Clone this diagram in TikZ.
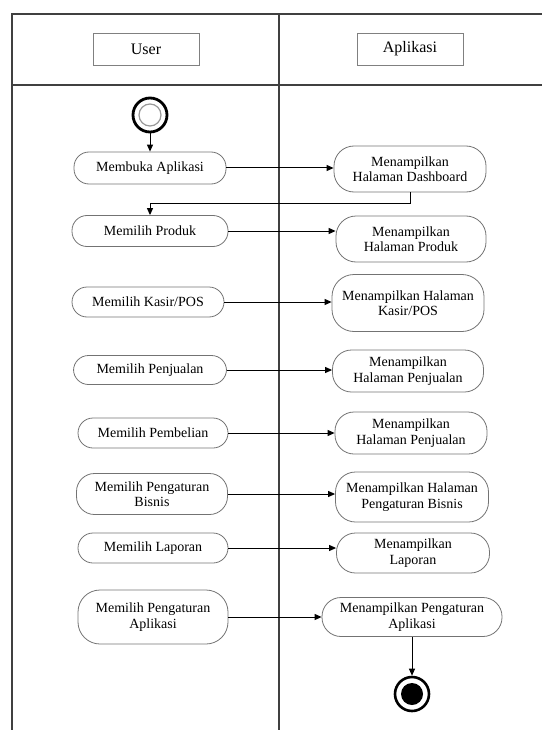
\documentclass[tikz,border=0pt]{standalone}
\usepackage{fontspec}
\setmainfont{Liberation Serif}
\usetikzlibrary{arrows.meta, positioning}

\begin{document}
\begin{tikzpicture}[
    x=1pt, y=-1pt,
    lane/.style={draw=black!75, line width=1.6pt},
    head/.style={draw=black!50, line width=0.9pt, minimum width=106pt, minimum height=32pt, font=\fontsize{16}{19}\selectfont},
    act/.style={draw=black!55, line width=0.8pt, rounded corners=15pt, align=center, inner sep=0pt, font=\fontsize{14}{15.5}\selectfont},
    arr/.style={-{Triangle[length=7pt, width=6pt]}, line width=1pt},
    startnode/.style={circle, draw, line width=2.8pt, minimum size=34pt, inner sep=0pt,
        path picture={\draw[black!40, line width=1.2pt] (path picture bounding box.center) circle (11pt);}},
    endnode/.style={circle, draw, line width=2.6pt, minimum size=34pt, inner sep=0pt,
        path picture={\fill (path picture bounding box.center) circle (11pt);}}
]
\useasboundingbox (0,0) rectangle (542,730);
% swimlanes
\draw[lane] (12,730) -- (12,14) -- (542,14);
\draw[lane] (12,85) -- (542,85);
\draw[lane] (279,14) -- (279,730);
\node[head] (user) at (146,49) {User};
\node[head] (app) at (410,49) {Aplikasi};
% user lane
\node[startnode] (start) at (150,115) {};
\node[act, minimum width=152pt, minimum height=32pt] (u1) at (150,168) {Membuka Aplikasi};
\node[act, minimum width=156pt, minimum height=31pt] (u2) at (150,231) {Memilih Produk};
\node[act, minimum width=152pt, minimum height=30pt] (u3) at (148,302) {Memilih Kasir/POS};
\node[act, minimum width=153pt, minimum height=29pt] (u4) at (150,370) {Memilih Penjualan};
\node[act, minimum width=150pt, minimum height=30pt] (u5) at (153,433) {Memilih Pembelian};
\node[act, minimum width=151pt, minimum height=41pt, rounded corners=18pt] (u6) at (152,494) {Memilih Pengaturan\\ Bisnis};
\node[act, minimum width=150pt, minimum height=30pt] (u7) at (153,548) {Memilih Laporan};
\node[act, minimum width=150pt, minimum height=54pt, rounded corners=22pt] (u8) at (153,617) {Memilih Pengaturan\\ Aplikasi};
% app lane
\node[act, minimum width=152pt, minimum height=46pt, rounded corners=20pt] (a1) at (410,169) {Menampilkan\\ Halaman Dashboard};
\node[act, minimum width=150pt, minimum height=46pt, rounded corners=20pt] (a2) at (411,239) {Menampilkan\\ Halaman Produk};
\node[act, minimum width=152pt, minimum height=57pt, rounded corners=22pt] (a3) at (408,303) {Menampilkan Halaman\\ Kasir/POS};
\node[act, minimum width=151pt, minimum height=42pt, rounded corners=19pt] (a4) at (408,371) {Menampilkan\\ Halaman Penjualan};
\node[act, minimum width=152pt, minimum height=42pt, rounded corners=19pt] (a5) at (411,433) {Menampilkan\\ Halaman Penjualan};
\node[act, minimum width=153pt, minimum height=50pt, rounded corners=20pt] (a6) at (412,497) {Menampilkan Halaman\\ Pengaturan Bisnis};
\node[act, minimum width=153pt, minimum height=40pt, rounded corners=19pt] (a7) at (413,553) {Menampilkan\\ Laporan};
\node[act, minimum width=180pt, minimum height=39pt, rounded corners=19pt] (a8) at (412,617) {Menampilkan Pengaturan\\ Aplikasi};
\node[endnode] (fin) at (412,694) {};
% flow
\draw[arr] (start) -- (u1);
\draw[arr] (u1) -- (u1 -| a1.west);
\draw[arr] (a1.south) -- ++(0,11) -| (u2.north);
\draw[arr] (u2) -- (u2 -| a2.west);
\draw[arr] (u3) -- (u3 -| a3.west);
\draw[arr] (u4) -- (u4 -| a4.west);
\draw[arr] (u5) -- (u5 -| a5.west);
\draw[arr] (u6) -- (u6 -| a6.west);
\draw[arr] (u7) -- (u7 -| a7.west);
\draw[arr] (u8) -- (u8 -| a8.west);
\draw[arr] (a8) -- (fin);
\end{tikzpicture}
\end{document}
